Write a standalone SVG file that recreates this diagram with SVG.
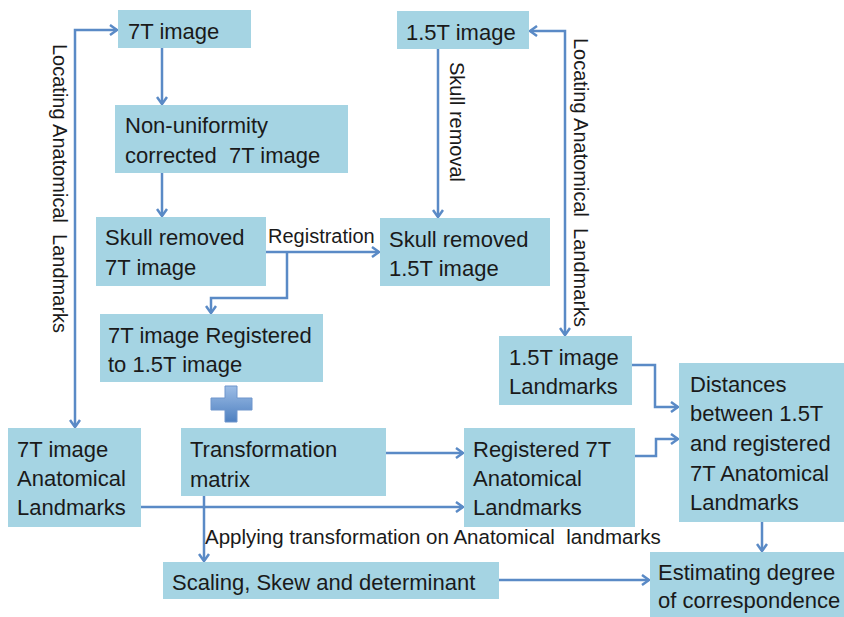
<svg xmlns="http://www.w3.org/2000/svg" width="844" height="617" viewBox="0 0 844 617">
<style>
.box{fill:#A5D4E3;}
.t{font-family:"Liberation Sans",Arial,sans-serif;font-size:22px;fill:#1a1a1a;}
.s{font-family:"Liberation Sans",Arial,sans-serif;font-size:20px;fill:#1a1a1a;}
.c{fill:none;stroke:#5A8AC6;stroke-width:2.5;}
</style>
<defs>
<marker id="ah" markerWidth="12" markerHeight="12" refX="9" refY="6" orient="auto-start-reverse" markerUnits="userSpaceOnUse">
<path d="M2 1 L9 6 L2 11" fill="none" stroke="#5A8AC6" stroke-width="2.5"/>
</marker>
<linearGradient id="pg" x1="0" y1="0" x2="0" y2="1">
<stop offset="0" stop-color="#9DBDE6"/>
<stop offset="1" stop-color="#4E80C0"/>
</linearGradient>
</defs>
<rect width="844" height="617" fill="#ffffff"/>

<g id="connectors">
<path class="c" d="M162 48 V104" marker-end="url(#ah)"/>
<path class="c" d="M162 173 V216" marker-end="url(#ah)"/>
<path class="c" d="M438 49 V217" marker-end="url(#ah)"/>
<path class="c" d="M265 252 H379" marker-end="url(#ah)"/>
<path class="c" d="M287 252 V298 H211 V313" marker-end="url(#ah)"/>
<path class="c" d="M75 427 V30 H117" marker-start="url(#ah)" marker-end="url(#ah)"/>
<path class="c" d="M530 31 H565 V335" marker-start="url(#ah)" marker-end="url(#ah)"/>
<path class="c" d="M386 453 H463" marker-end="url(#ah)"/>
<path class="c" d="M141 507 H463" marker-end="url(#ah)"/>
<path class="c" d="M204 496 V561" marker-end="url(#ah)"/>
<path class="c" d="M499 580 H649" marker-end="url(#ah)"/>
<path class="c" d="M632 365 H655 V407 H678" marker-end="url(#ah)"/>
<path class="c" d="M635 456 H656 V439 H678" marker-end="url(#ah)"/>
<path class="c" d="M762 522 V551" marker-end="url(#ah)"/>
<text class="s" transform="translate(53,44) rotate(90)" xml:space="preserve">Locating Anatomical  Landmarks</text>
<text class="s" transform="translate(574,38) rotate(90)" xml:space="preserve">Locating Anatomical  Landmarks</text>
<text class="s" transform="translate(450,62) rotate(90)">Skull removal</text>
<text class="s" x="268" y="243">Registration</text>
<text class="s" x="205" y="544" style="font-size:20.5px" xml:space="preserve">Applying transformation on Anatomical  landmarks</text>
</g>

<g id="n7t">
<rect class="box" x="118" y="10" width="133" height="38"/>
<text class="t" x="128" y="39">7T image</text>
</g>
<g id="nNonUniform">
<rect class="box" x="115" y="105" width="233" height="68"/>
<text class="t" x="125" y="133">Non-uniformity</text>
<text class="t" x="125" y="163" xml:space="preserve">corrected  7T image</text>
</g>
<g id="nSkull7T">
<rect class="box" x="96" y="217" width="170" height="69"/>
<text class="t" x="105" y="245">Skull removed</text>
<text class="t" x="105" y="275">7T image</text>
</g>
<g id="n15t">
<rect class="box" x="397" y="11" width="132" height="38"/>
<text class="t" x="406" y="40">1.5T image</text>
</g>
<g id="nSkull15T">
<rect class="box" x="380" y="218" width="170" height="68"/>
<text class="t" x="389" y="247">Skull removed</text>
<text class="t" x="389" y="276">1.5T image</text>
</g>
<g id="nReg">
<rect class="box" x="100" y="314" width="223" height="68"/>
<text class="t" x="108" y="343">7T image Registered</text>
<text class="t" x="108" y="372">to 1.5T image</text>
</g>
<g id="plus">
<path d="M225 386 H237 V398 H252 V410 H237 V422 H225 V410 H211 V398 H225 Z" fill="url(#pg)" stroke="#6E95CC" stroke-width="1"/>
</g>
<g id="n7tLand">
<rect class="box" x="8" y="428" width="133" height="99"/>
<text class="t" x="17" y="457">7T image</text>
<text class="t" x="17" y="486">Anatomical</text>
<text class="t" x="17" y="515">Landmarks</text>
</g>
<g id="nTrans">
<rect class="box" x="181" y="428" width="205" height="68"/>
<text class="t" x="190" y="457">Transformation</text>
<text class="t" x="190" y="487">matrix</text>
</g>
<g id="nScaling">
<rect class="box" x="163" y="562" width="336" height="37"/>
<text class="t" x="172" y="590">Scaling, Skew and determinant</text>
</g>
<g id="n15tLand">
<rect class="box" x="499" y="336" width="133" height="69"/>
<text class="t" x="509" y="365">1.5T image</text>
<text class="t" x="509" y="394">Landmarks</text>
</g>
<g id="nReg7TLand">
<rect class="box" x="464" y="428" width="171" height="99"/>
<text class="t" x="473" y="457">Registered 7T</text>
<text class="t" x="473" y="486">Anatomical</text>
<text class="t" x="473" y="515">Landmarks</text>
</g>
<g id="nDist">
<rect class="box" x="679" y="363" width="165" height="159"/>
<text class="t" x="690" y="392">Distances</text>
<text class="t" x="690" y="421">between 1.5T</text>
<text class="t" x="690" y="451">and registered</text>
<text class="t" x="690" y="481">7T Anatomical</text>
<text class="t" x="690" y="510">Landmarks</text>
</g>
<g id="nEst">
<rect class="box" x="650" y="552" width="194" height="65"/>
<text class="t" x="658" y="580">Estimating degree</text>
<text class="t" x="658" y="608">of correspondence</text>
</g>
</svg>
